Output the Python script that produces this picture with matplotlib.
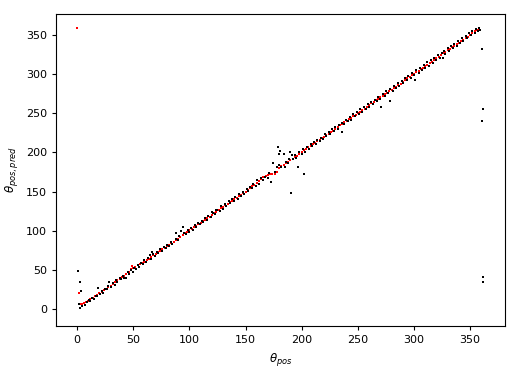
import matplotlib
matplotlib.use("Agg")
import matplotlib.pyplot as plt

black_points = [
    (1.2,49),(2.7,34),(3.6,23.4),(1.8,6.4),(2.7,1.7),(4.5,4),(7,5),(9,8.5),(10.5,12),(12,10),
    (13,14.5),(15,13),(16.5,17),(18,16),(19,27),(20.5,19),(22,23.5),(23,21),(25,26),(26.5,25),
    (28,30),(28.8,34),(30,28.5),(32,33),(33.5,31),(35,37),(36,34),(38,40),(39.5,38),(41,42.5),
    (42,40),(44,39),(45,47),(46.5,45),(48,50),(49.5,47),(51,53),(52.5,51),(54,56),(55,53.5),
    (57,59),(58.5,57),(60,62),(61.5,60),(63,65),(65,69),(66,64),(66.4,73),(68,70.5),(69.5,68),
    (71,73),(72.5,71),(74,76.5),(75.5,74),(77,79),(79,77.5),(80,82),(82,80),(83.5,86),(85,83),
    (87.8,97.5),(88,90),(90,88.5),(91,93),(93,100),(94.6,105),(95,97),(97,95.5),(98.5,101),(100,98),
    (101.5,104),(103,101.5),(105,107),(106,104.5),(108,110),(109.5,108),(111,113),(112.5,111),(114,116.5),(116,114),
    (117,119),(119,117.5),(119.8,123.5),(121,123),(123,121),(123.7,127),(125,127),(127,125.5),(128.5,131),(130,128),
    (132,134),(133,131.5),(135,137.5),(136.5,135),(138,140),(140,138.5),(141,143.5),(143,141),(144.5,147),(146,144.5),
    (148,150),(149,147),(151,153.5),(152.5,151),(154,156),(156,154),(157,160),(159,157.5),(160.5,165),(162,160),
    (164,167),(165.7,164.8),(167,169),(170,167),(171,174),(173,162.6),(174.7,186.8),(176,175),(177.7,181.9),(178.6,207.3),
    (180,184),(180.6,202),(180,198),(181.5,182),(184,198),(185,182),(186,188),(188,186),(189,192),(190,201),
    (190.4,147.7),(191,196.7),(192.5,191),(194,197),(195,193),(196.9,181),(198,200),(200,198.5),(201,204),(202,173),
    (203,201),(205,207),(206.5,205),(208,210.5),(209.5,208),(211,213),(212.5,211),(214,216.5),(216,214),(217,219),
    (219,217),(220.5,223),(222,220.5),(224,226),(225,223.5),(227,229.5),(228.5,227),(230,232),(232,230),(233,235.5),
    (235.5,226.4),(236,238),(238,236.5),(239.5,242),(241,239.5),(243,245.5),(244,242),(246,248.5),(247.5,246),(249,251),
    (251,249.5),(252,255),(254,252),(255.5,258),(257,255.5),(259,261.5),(260,258),(262,264.5),(263.5,262),(265,267),
    (267,265.5),(268,271),(270,268),(271,258.4),(272,274.5),(274,272),(275.5,278),(277,275.5),(278.5,266),(279,281.5),
    (281,279),(282.5,285),(284,282.5),(286,288.5),(287,285),(289,291.5),(290.5,289),(292,294.5),(294,292),(295,297.5),
    (297,295.5),(298.5,301),(300,298.5),(300.7,292.5),(302,305),(304,302),(305,308),(307,305),(308.5,311.5),(310,308),
    (312,315),(313,311),(315,318),(316.5,314.5),(318,321),(320,318),(321,324),(323,321),(324.5,327.5),(325.6,320.5),
    (327,330),(328,326),(330,333),(331.5,330),(333,336),(335,333.5),(336,339),(338,336),(339.5,342.5),(341,339.5),
    (343,346),(344,342),(346,349),(347.5,346),(349,352),(351,349.5),(352,355),(354,352),(355.5,357.5),(357,355.5),
    (358,359),(359,357),(360.6,332),(361,255),(360.5,240),(361,40.5),(361,34),
]

red_points = [
    (0.3,358.5),(1.8,20.8),(2.7,7),(4.5,6),(6,7.2),(8,8.5),(10,10),(12,12.5),(14,14),(16,16.5),
    (18,18),(20,20.5),(22,22),(24,24.5),(26,26),(28,28.5),(30,30),(32,32.5),(34,34),(36,36.5),
    (38,38),(40,40.5),(42,42),(44,44.5),(46,47),(48,51),(49,55),(50,53),(52,54),(54,56),
    (56,57),(58,59),(60,60.5),(62,62),(64,64.5),(66,66),(68,68.5),(70,70),(72,72.5),(74,74),
    (76,76.5),(78,78),(80,80.5),(82,82),(84,84.5),(86,86),(88,88.5),(90,90),(92,92.5),(94,94),
    (96,96.5),(98,98),(100,100.5),(102,102),(104,104.5),(106,106),(108,108.5),(110,110),(112,112.5),(114,114),
    (116,116.5),(118,118),(120,120.5),(122,122),(124,124.5),(126,126),(128,128.5),(130,130),(132,132.5),(134,134),
    (136,136.5),(138,138),(140,140.5),(142,142),(144,144.5),(146,146),(148,148.5),(150,150),(152,152.5),(154,154),
    (156,156.5),(158,158),(160,160.5),(162,163),(164,166),(166,169),(168,170),(170,171),(172,172),(174,172.5),
    (176,172),(178,175),(180,180),(182,182.5),(184,184),(186,186.5),(188,188),(190,190.5),(192,192),(194,194.5),
    (196,196),(198,198.5),(200,200),(202,202.5),(204,204),(206,206.5),(208,208),(210,210.5),(212,212),(214,214.5),
    (216,216),(218,218.5),(220,220),(222,222.5),(224,224),(226,226.5),(228,228),(230,230.5),(232,232),(234,234.5),
    (236,236),(238,238.5),(240,240),(242,242.5),(244,244),(246,246.5),(248,248),(250,250.5),(252,252),(254,254.5),
    (256,256),(258,258.5),(260,260),(262,262.5),(264,264),(266,266.5),(268,268),(270,270.5),(272,272),(274,274.5),
    (276,276),(278,278.5),(280,280),(282,282.5),(284,284),(286,286.5),(288,288),(290,290.5),(292,292),(294,294.5),
    (296,296),(298,298.5),(300,300),(302,302.5),(304,304),(306,306.5),(308,308),(310,310.5),(312,312),(314,314.5),
    (316,316),(318,318.5),(320,320),(322,322.5),(324,324),(326,326.5),(328,328),(330,330.5),(332,332),(334,334.5),
    (336,336),(338,338.5),(340,340),(342,342.5),(344,344),(346,346.5),(348,348),(350,350.5),(352,352),(354,354.5),
    (356,356),(358,358),
]

black_x = [p[0] for p in black_points]
black_y = [p[1] for p in black_points]
red_x = [p[0] for p in red_points]
red_y = [p[1] for p in red_points]

x_label = r"$\theta_{pos}$"
y_label = r"$\theta_{pos,pred}$"

fig = plt.figure(figsize=(5.17, 3.69), dpi=100)
ax = fig.add_axes([56/517, 1-326/369, (505-56)/517, (326-14)/369])
ax.scatter(red_x, red_y, s=4.5, c="red", marker="s", linewidths=0, zorder=2)
ax.scatter(black_x, black_y, s=4, c="black", marker="s", linewidths=0, zorder=3)
ax.set_xlim(-18.7, 381)
ax.set_ylim(-21.7, 376.8)
ax.set_xticks([0, 50, 100, 150, 200, 250, 300, 350])
ax.set_yticks([0, 50, 100, 150, 200, 250, 300, 350])
ax.tick_params(labelsize=8, length=3)
ax.set_xlabel(x_label, fontsize=8.5)
ax.set_ylabel(y_label, fontsize=8.5)
fig.savefig("out.png", dpi=100)
